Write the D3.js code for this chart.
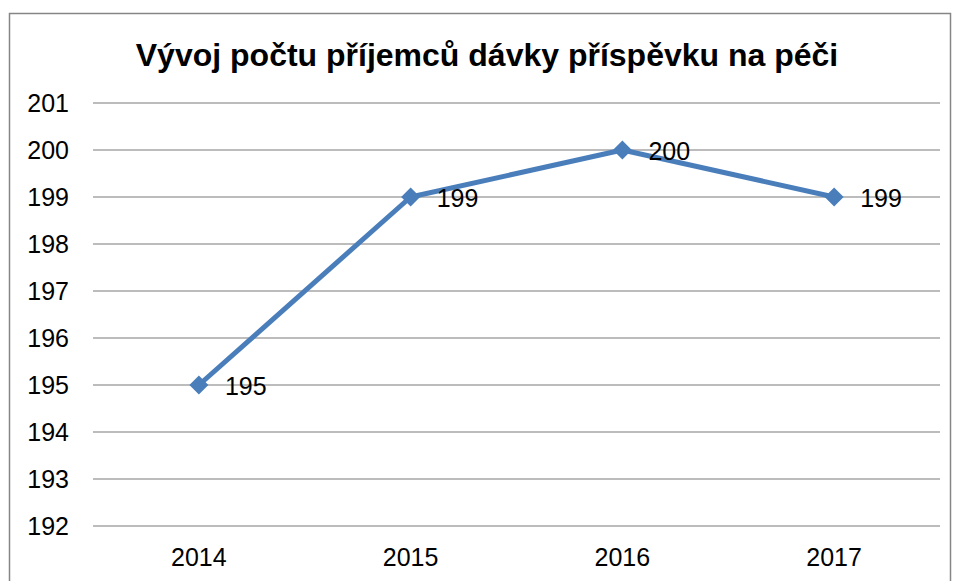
<!DOCTYPE html>
<html>
<head>
<meta charset="utf-8">
<script src="https://cdn.jsdelivr.net/npm/d3@7"></script>
<style>
  body { margin: 0; background: #fff; }
  svg text { font-family: "Liberation Sans", Arial, sans-serif; }
</style>
</head>
<body>
<svg width="959" height="581"></svg>
<script>
// chart data
const years = ["2014", "2015", "2016", "2017"];
const recipients = [195, 199, 200, 199];
const yTicks = [192, 193, 194, 195, 196, 197, 198, 199, 200, 201];
const title = "Vývoj počtu příjemců dávky příspěvku na péči";

const svg = d3.select("svg");

// outer frame
svg.append("rect")
    .attr("x", 9.5).attr("y", 13.5)
    .attr("width", 941).attr("height", 600)
    .attr("fill", "#fff")
    .attr("stroke", "#868686")
    .attr("stroke-width", 1.5);

svg.append("text")
    .attr("x", 487).attr("y", 66)
    .attr("text-anchor", "middle")
    .attr("font-size", 32)
    .attr("font-weight", "bold")
    .text(title);

const x = d3.scaleBand()
    .domain(years)
    .range([93, 940]);

const y = d3.scaleLinear()
    .domain([192, 201])
    .range([526, 103]);

// gridlines
svg.append("g")
    .selectAll("line")
    .data(yTicks)
    .enter()
    .append("line")
    .attr("x1", 93).attr("x2", 940)
    .attr("y1", d => y(d)).attr("y2", d => y(d))
    .attr("stroke", "#a6a6a6")
    .attr("stroke-width", 1.5);

// y axis labels
svg.append("g")
    .selectAll("text")
    .data(yTicks)
    .enter()
    .append("text")
    .attr("x", 69)
    .attr("y", d => y(d) + 9)
    .attr("text-anchor", "end")
    .attr("font-size", 25)
    .text(d => d);

// x axis labels
svg.append("g")
    .selectAll("text")
    .data(years)
    .enter()
    .append("text")
    .attr("x", d => x(d) + x.bandwidth() / 2)
    .attr("y", 566)
    .attr("text-anchor", "middle")
    .attr("font-size", 25)
    .text(d => d);

const pts = years.map((yr, i) => ({ year: yr, value: recipients[i] }));
const cx = d => x(d.year) + x.bandwidth() / 2;

svg.append("path")
    .datum(pts)
    .attr("fill", "none")
    .attr("stroke", "#4a7ebb")
    .attr("stroke-width", 5)
    .attr("stroke-linejoin", "round")
    .attr("d", d3.line().x(cx).y(d => y(d.value)));

svg.append("g")
    .selectAll("path")
    .data(pts)
    .enter()
    .append("path")
    .attr("transform", d => `translate(${cx(d)},${y(d.value)})`)
    .attr("d", "M0,-9.5L9.5,0L0,9.5L-9.5,0Z")
    .attr("fill", "#4a7ebb");

// data labels
svg.append("g")
    .selectAll("text")
    .data(pts)
    .enter()
    .append("text")
    .attr("x", d => cx(d) + 26)
    .attr("y", d => y(d.value) + 10)
    .attr("font-size", 25)
    .text(d => d.value);
</script>
</body>
</html>
